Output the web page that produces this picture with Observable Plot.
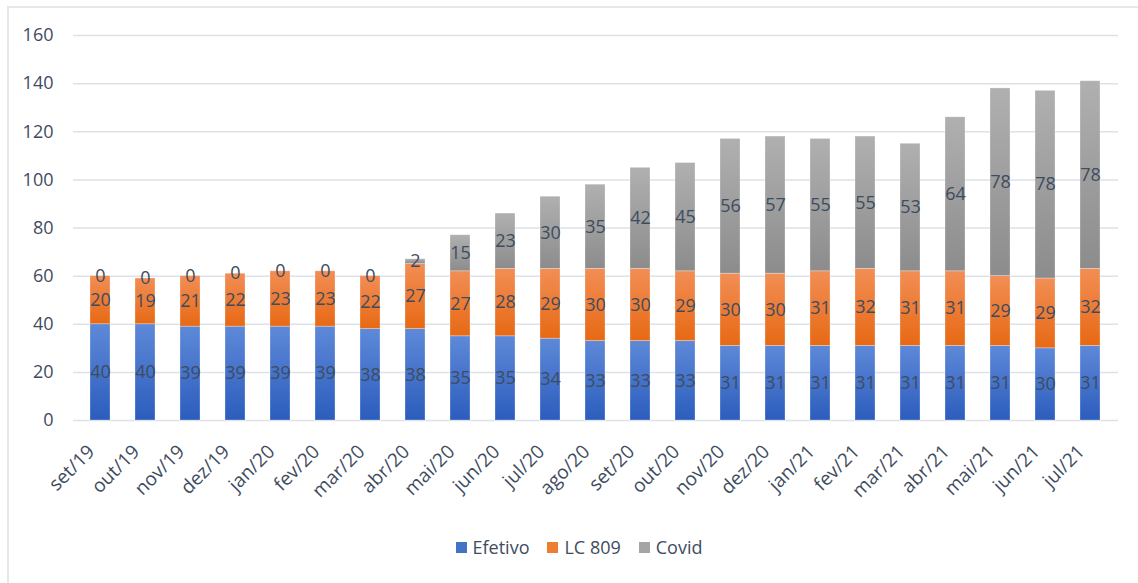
<!DOCTYPE html>
<html>
<head>
<meta charset="utf-8">
<script src="https://cdn.jsdelivr.net/npm/d3@7"></script>
<script src="https://cdn.jsdelivr.net/npm/@observablehq/plot@0.6"></script>
<style>
  html, body { margin: 0; padding: 0; background: #fff; }
  body { width: 1138px; height: 583px; overflow: hidden; position: relative; font-family: "Open Sans", sans-serif; }
  #frame { position: absolute; left: 7px; top: 6px; width: 1200px; height: 700px; border-top: 2px solid #E4E8ED; border-left: 2px solid #E4E8ED; }
  #chart { position: absolute; left: 0; top: 0; }
  #chart svg { overflow: visible; }
  #legend { position: absolute; left: 0; top: 535px; width: 1158px; display: flex; justify-content: center; align-items: center; font-size: 18px; color: #3E4C60; }
  .item { display: flex; align-items: center; margin: 0 9px; }
  .sw { width: 11px; height: 11px; margin-right: 6px; }
</style>
</head>
<body>
<div id="frame"></div>
<div id="chart"></div>
<div id="legend"></div>
<script>
const months = ["set/19","out/19","nov/19","dez/19","jan/20","fev/20","mar/20","abr/20","mai/20","jun/20","jul/20","ago/20","set/20","out/20","nov/20","dez/20","jan/21","fev/21","mar/21","abr/21","mai/21","jun/21","jul/21"];
const efetivo = [40,40,39,39,39,39,38,38,35,35,34,33,33,33,31,31,31,31,31,31,31,30,31];
const lc809   = [20,19,21,22,23,23,22,27,27,28,29,30,30,29,30,30,31,32,31,31,29,29,32];
const covid   = [0,0,0,0,0,0,0,2,15,23,30,35,42,45,56,57,55,55,53,64,78,78,78];
const seriesNames = ["Efetivo","LC 809","Covid"];
const yTicks = [0,20,40,60,80,100,120,140,160];

const seriesValues = [efetivo, lc809, covid];
const data = months.flatMap((m, i) => seriesNames.map((s, k) => ({month: m, series: s, value: seriesValues[k][i]})));

const gradients = [
  {id: "gEf", top: "#5E89D8", bottom: "#2C5DBD", swatch: "#4472C4"},
  {id: "gLc", top: "#F28E55", bottom: "#E76914", swatch: "#ED7D31"},
  {id: "gCv", top: "#B0B0B0", bottom: "#8C8C8C", swatch: "#A5A5A5"}
];

const chart = Plot.plot({
  width: 1138,
  height: 515,
  marginLeft: 73,
  marginRight: 20,
  marginTop: 35,
  marginBottom: 95,
  style: {fontFamily: "'Open Sans', sans-serif", fontSize: "18px", color: "#3E4C60", background: "transparent"},
  x: {type: "band", domain: months, paddingInner: 0.55, paddingOuter: 0.275, label: null},
  y: {domain: [0, 160], label: null},
  color: {domain: seriesNames, range: gradients.map(g => `url(#${g.id})`)},
  marks: [
    Plot.gridY(yTicks, {stroke: "#DDE2E9", strokeOpacity: 1, strokeWidth: 1.5}),
    Plot.axisY(yTicks, {tickSize: 0, tickPadding: 20, label: null, fontSize: 18}),
    Plot.axisX({tickSize: 0, tickPadding: 28, tickRotate: -45, dx: -9, label: null, fontSize: 19}),
    Plot.barY(data, Plot.stackY({x: "month", y: "value", fill: "series", stroke: "#ffffff", strokeOpacity: 0.35, strokeWidth: 0.8})),
    Plot.text(data, Plot.stackY({x: "month", y: "value", z: "series", text: "value", fill: "#3E4C60", fontSize: 18}))
  ]
});

const svg = d3.select(chart);
const defs = svg.insert("defs", ":first-child");
gradients.forEach(g => {
  const lg = defs.append("linearGradient").attr("id", g.id).attr("x1", 0).attr("y1", 0).attr("x2", 0).attr("y2", 1);
  lg.append("stop").attr("offset", "0%").attr("stop-color", g.top);
  lg.append("stop").attr("offset", "100%").attr("stop-color", g.bottom);
});
document.getElementById("chart").appendChild(chart);

const legend = document.getElementById("legend");
seriesNames.forEach((s, k) => {
  const it = document.createElement("div");
  it.className = "item";
  const sw = document.createElement("div");
  sw.className = "sw";
  sw.style.background = gradients[k].swatch;
  const t = document.createElement("span");
  t.textContent = s;
  it.appendChild(sw); it.appendChild(t);
  legend.appendChild(it);
});
</script>
</body>
</html>
